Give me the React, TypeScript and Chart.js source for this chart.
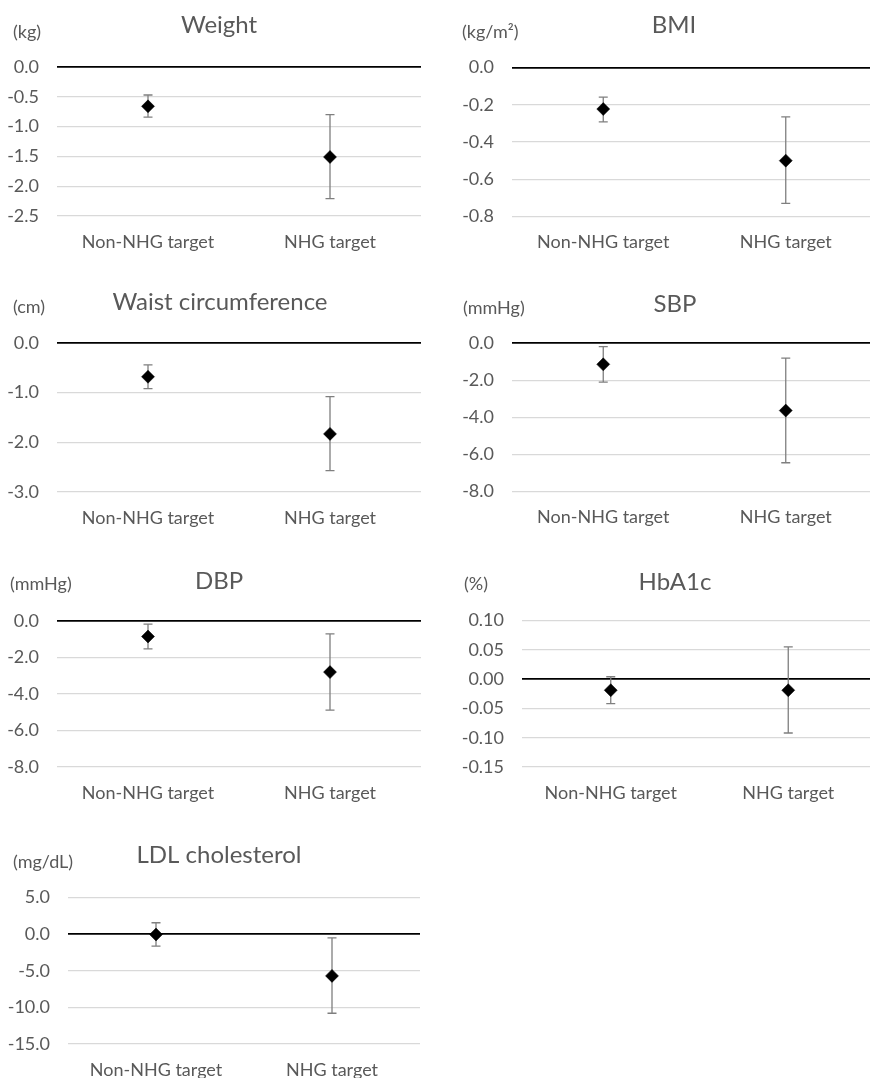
import React, { useEffect, useRef } from "react";
import { Chart, registerables } from "chart.js";

Chart.register(...registerables);

// ---------- DATA ----------
const categories = ["Non-NHG target", "NHG target"];

const weightMean = [-0.66, -1.51];
const weightLow = [-0.84, -2.21];
const weightHigh = [-0.47, -0.8];
const weightTicks = [0, -0.5, -1.0, -1.5, -2.0, -2.5];

const bmiMean = [-0.223, -0.5];
const bmiLow = [-0.292, -0.73];
const bmiHigh = [-0.159, -0.265];
const bmiTicks = [0, -0.2, -0.4, -0.6, -0.8];

const waistMean = [-0.68, -1.83];
const waistLow = [-0.92, -2.57];
const waistHigh = [-0.44, -1.08];
const waistTicks = [0, -1.0, -2.0, -3.0];

const sbpMean = [-1.15, -3.64];
const sbpLow = [-2.11, -6.45];
const sbpHigh = [-0.2, -0.81];
const sbpTicks = [0, -2.0, -4.0, -6.0, -8.0];

const dbpMean = [-0.85, -2.8];
const dbpLow = [-1.53, -4.88];
const dbpHigh = [-0.17, -0.71];
const dbpTicks = [0, -2.0, -4.0, -6.0, -8.0];

const hba1cMean = [-0.019, -0.019];
const hba1cLow = [-0.042, -0.092];
const hba1cHigh = [0.004, 0.055];
const hba1cTicks = [0.1, 0.05, 0, -0.05, -0.1, -0.15];

const ldlMean = [-0.05, -5.7];
const ldlLow = [-1.65, -10.8];
const ldlHigh = [1.55, -0.5];
const ldlTicks = [5.0, 0, -5.0, -10.0, -15.0];

// ---------- STYLE / LAYOUT ----------
const FONT = 'Lato, "Open Sans", "Liberation Sans", sans-serif';
const TEXT = "#595959";
const GRID = "#d9d9d9";
const ERR = "#7f7f7f";

type Box = { x: number; y: number; w: number; h: number };
type Area = { l: number; t: number; r: number; b: number };
type PanelDef = {
  title: string;
  unit: string;
  mean: number[];
  low: number[];
  high: number[];
  ticks: number[];
  decimals: number;
  box: Box;
  area: Area;
  titlePos: [number, number];
  unitPos: [number, number];
};

const panels: PanelDef[] = [
  {
    title: "Weight", unit: "(kg)", mean: weightMean, low: weightLow, high: weightHigh,
    ticks: weightTicks, decimals: 1,
    box: { x: 0, y: 0, w: 440, h: 268 }, area: { l: 57, t: 67, r: 421, b: 216 },
    titlePos: [219, 25], unitPos: [13, 32],
  },
  {
    title: "BMI", unit: "(kg/m²)", mean: bmiMean, low: bmiLow, high: bmiHigh,
    ticks: bmiTicks, decimals: 1,
    box: { x: 440, y: 0, w: 445, h: 268 }, area: { l: 512, t: 67.5, r: 877, b: 216.5 },
    titlePos: [674, 25], unitPos: [462, 32],
  },
  {
    title: "Waist circumference", unit: "(cm)", mean: waistMean, low: waistLow, high: waistHigh,
    ticks: waistTicks, decimals: 1,
    box: { x: 0, y: 270, w: 440, h: 268 }, area: { l: 57, t: 343, r: 421, b: 492 },
    titlePos: [220, 302], unitPos: [13, 307],
  },
  {
    title: "SBP", unit: "(mmHg)", mean: sbpMean, low: sbpLow, high: sbpHigh,
    ticks: sbpTicks, decimals: 1,
    box: { x: 440, y: 270, w: 445, h: 268 }, area: { l: 512, t: 343, r: 877, b: 491.5 },
    titlePos: [675, 304], unitPos: [463, 308],
  },
  {
    title: "DBP", unit: "(mmHg)", mean: dbpMean, low: dbpLow, high: dbpHigh,
    ticks: dbpTicks, decimals: 1,
    box: { x: 0, y: 540, w: 440, h: 268 }, area: { l: 57, t: 621, r: 421, b: 767 },
    titlePos: [219, 581], unitPos: [10, 584],
  },
  {
    title: "HbA1c", unit: "(%)", mean: hba1cMean, low: hba1cLow, high: hba1cHigh,
    ticks: hba1cTicks, decimals: 2,
    box: { x: 440, y: 540, w: 445, h: 268 }, area: { l: 522, t: 620.5, r: 877, b: 767 },
    titlePos: [675, 582], unitPos: [464, 584],
  },
  {
    title: "LDL cholesterol", unit: "(mg/dL)", mean: ldlMean, low: ldlLow, high: ldlHigh,
    ticks: ldlTicks, decimals: 1,
    box: { x: 0, y: 808, w: 440, h: 270 }, area: { l: 68, t: 897.5, r: 420, b: 1044 },
    titlePos: [219, 855], unitPos: [13, 862],
  },
];

// ---------- PLUGINS ----------
const errorBarPlugin = {
  id: "errorBars",
  beforeDatasetsDraw(chart: any) {
    const opts = chart.options.plugins.errorBars;
    if (!opts) return;
    const xs = chart.scales.x;
    const ys = chart.scales.y;
    const ctx = chart.ctx;
    ctx.save();
    ctx.strokeStyle = opts.color;
    ctx.lineWidth = opts.width;
    opts.low.forEach((lo: number, i: number) => {
      const hi = opts.high[i];
      const x = xs.getPixelForValue(i);
      const y1 = ys.getPixelForValue(lo);
      const y2 = ys.getPixelForValue(hi);
      ctx.beginPath();
      ctx.moveTo(x, y1);
      ctx.lineTo(x, y2);
      ctx.moveTo(x - opts.cap, y1);
      ctx.lineTo(x + opts.cap, y1);
      ctx.moveTo(x - opts.cap, y2);
      ctx.lineTo(x + opts.cap, y2);
      ctx.stroke();
    });
    ctx.restore();
  },
};

const panelTextPlugin = {
  id: "panelText",
  afterDraw(chart: any) {
    const o = chart.options.plugins.panelText;
    if (!o) return;
    const ctx = chart.ctx;
    ctx.save();
    ctx.fillStyle = TEXT;
    ctx.textBaseline = "middle";
    ctx.font = `${o.titleSize}px ${FONT}`;
    ctx.textAlign = "center";
    ctx.fillText(o.title, o.titleX, o.titleY);
    ctx.font = `${o.unitSize}px ${FONT}`;
    ctx.textAlign = "left";
    ctx.fillText(o.unit, o.unitX, o.unitY);
    ctx.restore();
  },
};

function ChartPanel({ p }: { p: PanelDef }) {
  const ref = useRef<HTMLCanvasElement | null>(null);
  useEffect(() => {
    if (!ref.current) return;
    const { box, area } = p;
    const yMax = Math.max(...p.ticks);
    const yMin = Math.min(...p.ticks);
    const chart = new Chart(ref.current, {
      type: "line",
      data: {
        labels: categories,
        datasets: [
          {
            data: p.mean,
            showLine: false,
            pointStyle: "rectRot",
            pointRadius: 6.5,
            pointHoverRadius: 6.5,
            backgroundColor: "#000",
            borderColor: "#000",
            pointBorderWidth: 0.5,
          },
        ],
      },
      options: {
        responsive: false,
        animation: false,
        devicePixelRatio: 1,
        events: [],
        layout: {
          padding: {
            left: 0,
            top: area.t - box.y,
            right: box.x + box.w - area.r,
            bottom: 0,
          },
        },
        plugins: {
          legend: { display: false },
          tooltip: { enabled: false },
          title: { display: false },
          errorBars: { low: p.low, high: p.high, color: ERR, width: 1.3, cap: 4.5 },
          panelText: {
            title: p.title,
            unit: p.unit,
            titleX: p.titlePos[0] - box.x,
            titleY: p.titlePos[1] - box.y,
            unitX: p.unitPos[0] - box.x,
            unitY: p.unitPos[1] - box.y,
            titleSize: 24,
            unitSize: 18,
          },
        } as any,
        scales: {
          x: {
            type: "category",
            offset: true,
            grid: { display: false, drawTicks: false },
            border: { display: false },
            ticks: {
              color: TEXT,
              font: { family: FONT, size: 18 },
              padding: 15,
              maxRotation: 0,
              autoSkip: false,
            },
            afterFit: (s: any) => {
              s.height = box.y + box.h - area.b;
            },
          },
          y: {
            type: "linear",
            min: yMin,
            max: yMax,
            grid: {
              drawTicks: false,
              color: (c: any) => (c.tick && Math.abs(c.tick.value) < 1e-9 ? "#000" : GRID),
              lineWidth: (c: any) => (c.tick && Math.abs(c.tick.value) < 1e-9 ? 1.8 : 1.2),
            },
            border: { display: false },
            afterBuildTicks: (s: any) => {
              s.ticks = p.ticks.map((v) => ({ value: v }));
            },
            ticks: {
              color: TEXT,
              font: { family: FONT, size: 18 },
              padding: 18,
              callback: (v: any) => Number(v).toFixed(p.decimals),
            },
            afterFit: (s: any) => {
              s.width = area.l - box.x;
            },
          },
        },
      },
      plugins: [errorBarPlugin, panelTextPlugin],
    } as any);
    return () => chart.destroy();
  }, [p]);

  return (
    <div
      style={{
        position: "absolute",
        left: p.box.x,
        top: p.box.y,
        width: p.box.w,
        height: p.box.h,
      }}
    >
      <canvas ref={ref} width={p.box.w} height={p.box.h} style={{ display: "block" }} />
    </div>
  );
}

export default function App() {
  return (
    <div
      style={{
        position: "absolute",
        left: 0,
        top: 0,
        width: 870,
        height: 1078,
        overflow: "hidden",
        background: "#fff",
      }}
    >
      {panels.map((p, i) => (
        <ChartPanel key={i} p={p} />
      ))}
    </div>
  );
}
